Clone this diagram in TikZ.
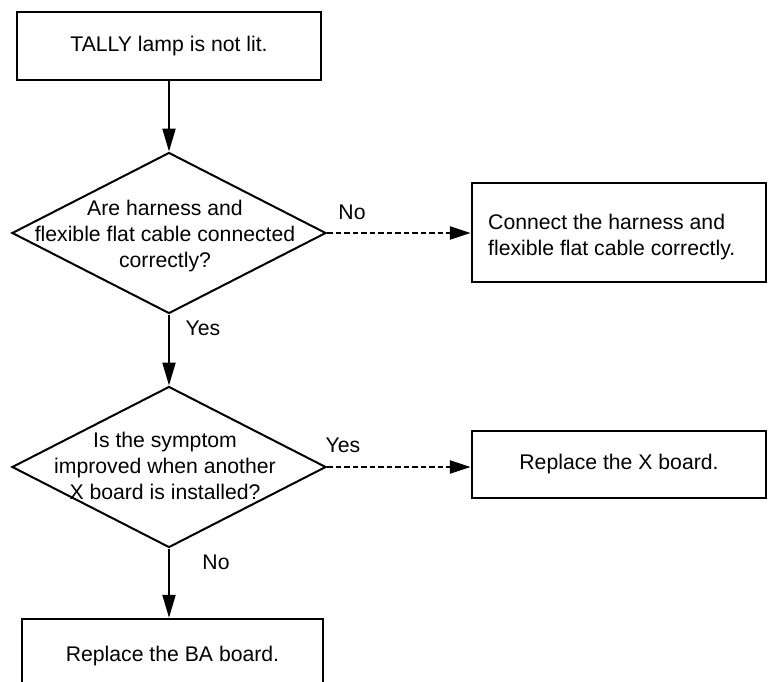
\documentclass[tikz,border=0pt]{standalone}
\usepackage{fontspec}
\setmainfont{Liberation Sans}
\usetikzlibrary{shapes.geometric,arrows.meta}
\begin{document}
\begin{tikzpicture}[x=1pt,y=-1pt,
  every node/.style={font=\fontsize{21.2}{26}\selectfont},
  box/.style={draw,line width=2.5pt,inner sep=0pt,rectangle},
  dia/.style={draw,line width=2pt,diamond,inner sep=0pt,minimum width=314pt,minimum height=161pt},
  txt/.style={align=center,inner sep=0pt},
  lbl/.style={inner sep=0pt},
  flow/.style={line width=2.2pt,-{Triangle[length=23pt,width=13pt]}},
  dflow/.style={line width=2.6pt,dash pattern=on 5.5pt off 3pt,-{Triangle[length=21pt,width=13pt]}}]
\useasboundingbox (0,0) rectangle (768,681);
\clip (0,0) rectangle (768,681);

\node[box,minimum width=304pt,minimum height=68pt] (start) at (169,46) {TALLY lamp is not lit.};

\node[dia] (d1) at (169,233) {};
\node[txt] (d1t) at (165,236) {Are harness and\\flexible flat cable connected\\correctly?};

\node[box,minimum width=294pt,minimum height=99pt] (conn) at (619,232.5) {};
\node[align=left,inner sep=0pt,anchor=west] (connt) at (488,237) {Connect the harness and\\flexible flat cable correctly.};

\node[dia] (d2) at (169,467) {};
\node[txt] (d2t) at (165,466) {Is the symptom\\improved when another\\X board is installed?};

\node[box,minimum width=294pt,minimum height=67pt] (xb) at (619,464.5) {Replace the X board.};

\node[box,minimum width=301pt,minimum height=74pt] (ba) at (172.5,656) {Replace the BA board.};

\draw[flow] (start.south -| d1.north) -- (d1.north);
\draw[flow] (d1.south) -- (d2.north);
\draw[flow] (d2.south) -- (d2.south |- ba.north);
\draw[dflow] (d1.east) -- (d1.east -| conn.west);
\draw[dflow] (d2.east) -- (d2.east -| xb.west);

\node[lbl] (lno1) at (352,212) {No};
\node[lbl] (lyes1) at (203,328) {Yes};
\node[lbl] (lyes2) at (343,445) {Yes};
\node[lbl] (lno2) at (216,562) {No};
\end{tikzpicture}
\end{document}
